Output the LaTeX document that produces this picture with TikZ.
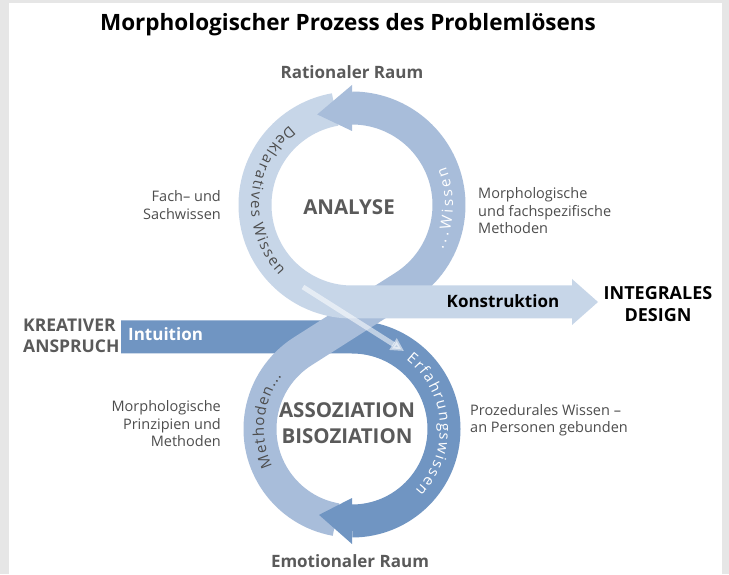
\documentclass[tikz,border=0pt]{standalone}
\usepackage{fontspec}
\setmainfont{Open Sans}
\usetikzlibrary{positioning,calc,decorations.text,arrows.meta}
\definecolor{fond}{HTML}{E6E6E6}
\definecolor{bandDark}{HTML}{7095C2}
\definecolor{bandMid}{HTML}{A8BDDA}
\definecolor{bandLight}{HTML}{C7D6E8}
\definecolor{txtgray}{HTML}{4D4D4D}
\definecolor{headgray}{HTML}{5A5A5A}

\begin{document}
\begin{tikzpicture}[x=1pt, y=1pt, inner sep=0pt,
    band/.style={line width=33pt},
    lbl/.style={text=txtgray, font=\fontsize{14.5}{17.5}\selectfont},
    head/.style={text=headgray, font=\bfseries\fontsize{17}{21}\selectfont},
    big/.style={text=headgray, font=\bfseries\fontsize{20.5}{26}\selectfont},
    curved/.style={decorate, decoration={text along path, text align={fit to path}, text color=#1,
      text={|\fontsize{15}{15}\selectfont|}}}]
    \useasboundingbox (0,0) rectangle (729,574);
    \fill[fond] (0,0) rectangle (729,574);
    \fill[white] (9,0) rectangle (722,571);
    \coordinate (U) at (352,369);
    \coordinate (L) at (352,145);
    \draw[band, draw=bandDark] (121,237) -- ($(L)+(90:92)$) arc[start angle=90, end angle=-90, radius=92];
    \draw[band, draw=bandMid] ($(L)+(-100:92)$) arc[start angle=-100, end angle=-237.5, radius=92]
      -- ($(U)+(-57.5:97)$) arc[start angle=-57.5, end angle=90, radius=97];
    \draw[band, draw=bandLight] ($(U)+(100:97)$) arc[start angle=100, end angle=270, radius=97] -- (572,272);
    \fill[bandLight] (572,295) -- (598,272) -- (572,249) -- cycle;
    \fill[bandDark] ($(L)+(-90:115)$) -- ($(L)+(-111:92)$) -- ($(L)+(-90:69)$) -- cycle;
    \fill[bandMid] ($(U)+(90:120)$) -- ($(U)+(111:97)$) -- ($(U)+(90:74)$) -- cycle;
    \coordinate (dstart) at (303,287);
    \coordinate (dend) at (404,223);
    \draw[white, opacity=0.55, line width=5pt, -{Triangle[width=13pt,length=13pt]}] (dstart) -- (dend);

    \path[curved=txtgray, decoration={text={|\fontsize{15}{15}\selectfont|Deklaratives Wissen}}]
      ($(U)+(128:101)$) arc[start angle=128, end angle=224, radius=101];
    \path[curved=white, decoration={text={|\fontsize{15}{15}\selectfont|...Wissen}}]
      ($(U)+(-26:101)$) arc[start angle=-26, end angle=22, radius=101];
    \path[curved=txtgray, decoration={text={|\fontsize{15}{15}\selectfont|Methoden...}}]
      ($(L)+(205:88)$) arc[start angle=205, end angle=143, radius=88];
    \path[curved=white, decoration={text={|\fontsize{15}{15}\selectfont|Erfahrungswissen}}]
      ($(L)+(52:88)$) arc[start angle=52, end angle=-44, radius=88];

    \node[font=\bfseries\fontsize{22.5}{27}\selectfont] (title) at (348,549) {Morphologischer Prozess des Problemlösens};
    \node[head] (rational) at (352,502) {Rationaler Raum};
    \node[head] (emotional) at (350,13) {Emotionaler Raum};
    \node[big] (analyse) at (349,367) {ANALYSE};
    \node[big, align=center] (assoz) at (347,151) {ASSOZIATION\\BISOZIATION};
    \node[lbl, align=right, anchor=east] (fach) at (221,369) {Fach– und\\Sachwissen};
    \node[lbl, align=left, anchor=west] (morphA) at (478,363) {Morphologische\\und fachspezifische\\Methoden};
    \node[lbl, align=right, anchor=east] (morphB) at (221,150) {Morphologische\\Prinzipien und\\Methoden};
    \node[lbl, align=left, anchor=west] (proz) at (470,154) {Prozedurales Wissen –\\an Personen gebunden};
    \node[head, font=\bfseries\fontsize{17.5}{21}\selectfont, align=left, anchor=west] (kreativ) at (23,238) {KREATIVER\\ANSPRUCH};
    \node[text=white, font=\bfseries\fontsize{17}{20}\selectfont, anchor=west] (intuition) at (128,240) {Intuition};
    \node[font=\bfseries\fontsize{17}{20}\selectfont] (konstr) at (503,273) {Konstruktion};
    \node[font=\bfseries\fontsize{18}{22}\selectfont, align=center] (integral) at (658,270) {INTEGRALES\\DESIGN};
\end{tikzpicture}
\end{document}
